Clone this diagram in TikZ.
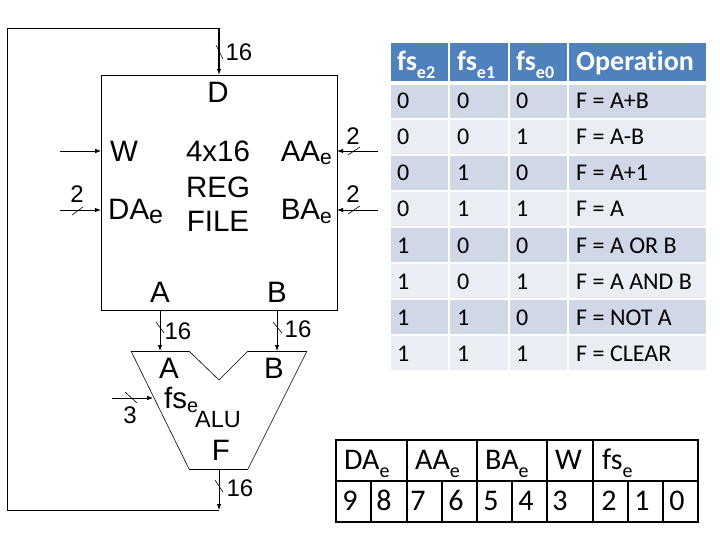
\documentclass[tikz,border=0pt]{standalone}
\usepackage{fontspec}
\setmainfont{Liberation Sans}
\newfontfamily\tblfont[Ligatures=NoCommon]{Carlito}
\usetikzlibrary{arrows.meta}
\definecolor{hdrblue}{HTML}{4F81BD}
\definecolor{rowdark}{HTML}{D0D8E8}
\definecolor{rowlight}{HTML}{E9EDF4}
\tikzset{
  wire/.style={draw=black, line width=0.9pt},
  sig/.style={wire, -{Latex[length=6pt,width=4.5pt]}},
  slash/.style={draw=black, line width=0.6pt},
  lbl/.style={inner sep=0pt, anchor=base, font=\fontsize{29.5}{30}\selectfont},
  num/.style={inner sep=0pt, anchor=base, font=\fontsize{24}{24}\selectfont},
  hcell/.style={fill=hdrblue, inner sep=0pt, anchor=north west},
  htxt/.style={inner sep=0pt, anchor=base west, text=white, font=\tblfont\bfseries\fontsize{28}{28}\selectfont},
  odd/.style={fill=rowdark, inner sep=0pt, anchor=north west},
  even/.style={fill=rowlight, inner sep=0pt, anchor=north west},
  rtxt/.style={inner sep=0pt, anchor=base west, font=\tblfont\fontsize{24}{24}\selectfont},
  bit/.style={inner sep=0pt, font=\tblfont\fontsize{30}{30}\selectfont},
  fmt/.style={draw=black, line width=1.4pt},
}
% size, drop, text
\newcommand{\lowered}[3]{\raisebox{-#2pt}{\fontsize{#1}{#1}\selectfont #3}}
\begin{document}
\begin{tikzpicture}[x=1pt,y=-1pt]
\useasboundingbox (0,0) rectangle (720,540);

% register file
\node[wire, draw, minimum width=236pt, minimum height=235pt, inner sep=0pt] (rf) at (219,192.5) {};
\node[lbl] (d) at (218,103) {D};
\node[lbl] (w) at (124,162) {W};
\node[lbl, anchor=base west] (dae) at (108,220) {DA\lowered{25}{4}{e}};
\node[lbl, anchor=base east] (aae) at (332,162) {AA\lowered{21}{3}{e}};
\node[lbl, anchor=base east] (bae) at (332,219) {BA\lowered{21}{4}{e}};
\node[lbl] (t1) at (218,162) {4x16};
\node[lbl] (t2) at (218,197) {REG};
\node[lbl] (t3) at (218,232) {FILE};
\node[lbl] (pa) at (160,302) {A};
\node[lbl] (pb) at (277,302) {B};

% alu
\coordinate (alu1) at (131,351);
\coordinate (alu2) at (189,351);
\coordinate (alu3) at (219,380);
\coordinate (alu4) at (248,351);
\coordinate (alu5) at (307,351);
\coordinate (alu6) at (248,469);
\coordinate (alu7) at (189,469);
\draw[wire] (alu1) -- (alu2);
\draw[slash] (alu2) -- (alu3) -- (alu4);
\draw[wire] (alu4) -- (alu5);
\draw[slash] (alu5) -- (alu6);
\draw[wire] (alu6) -- (alu7);
\draw[slash] (alu7) -- (alu1);
\node[lbl] (aa) at (169,378) {A};
\node[lbl] (ab) at (274,378) {B};
\node[lbl, anchor=base west] (fs) at (164,408) {fs\lowered{20}{4}{e}};
\node[lbl, font=\fontsize{23.5}{24}\selectfont, anchor=base west] (alu) at (195,427) {ALU};
\node[lbl] (f) at (221,460) {F};

% wires
\coordinate (fbk0) at (219,469);
\coordinate (fbk1) at (219,510);
\coordinate (fbk2) at (7.5,510);
\coordinate (fbk3) at (7.5,28);
\coordinate (fbk4) at (219,28);
\coordinate (din) at (219,75);
\draw[sig] (fbk0) -- (fbk1);
\draw[wire] (fbk1) -- (fbk2) -- (fbk3) -- (fbk4);
\draw[sig, line width=1.2pt] (fbk4) -- (din);
\coordinate (aout) at (160,310);
\coordinate (ain) at (160,351);
\coordinate (bout) at (277,310);
\coordinate (bin) at (277,351);
\draw[sig] (aout) -- (ain);
\draw[sig] (bout) -- (bin);
\coordinate (win) at (60,151);
\coordinate (wport) at (101,151);
\coordinate (dain) at (60,210);
\coordinate (daport) at (101,210);
\coordinate (aain) at (378,151);
\coordinate (aaport) at (337,151);
\coordinate (bain) at (378,210);
\coordinate (baport) at (337,210);
\coordinate (fsin) at (112,398);
\coordinate (fsport) at (153,398);
\draw[sig, line width=0.6pt] (win) -- (wport);
\draw[sig] (dain) -- (daport);
\draw[sig] (aain) -- (aaport);
\draw[sig] (bain) -- (baport);
\draw[sig, line width=0.6pt] (fsin) -- (fsport);

% bus slashes
\draw[slash] (216,45) -- (223,59);
\draw[slash] (156,322) -- (164,333);
\draw[slash] (273,322) -- (282,333);
\draw[slash] (215,480) -- (223,492);
\draw[slash] (125,392) -- (137,403);
\draw[slash] (72,215) -- (83,207);
\draw[slash] (348,155) -- (360,147);
\draw[slash] (348,214) -- (360,206);

% bus widths
\node[num] (n1) at (239,61) {16};
\node[num] (n2) at (178,339) {16};
\node[num] (n3) at (298,337) {16};
\node[num] (n4) at (240,496) {16};
\node[num] (n5) at (130,423) {3};
\node[num] (n6) at (77,203) {2};
\node[num] (n7) at (353,145) {2};
\node[num] (n8) at (353,203) {2};

% function table
\node[hcell, minimum width=57pt, minimum height=38pt] (h0) at (391,43) {};
\node[hcell, minimum width=58pt, minimum height=38pt] (h1) at (450,43) {};
\node[hcell, minimum width=57pt, minimum height=38pt] (h2) at (510,43) {};
\node[hcell, minimum width=137pt, minimum height=38pt] (h3) at (569,43) {};
\node[htxt] (ht0) at (397,71) {fs\lowered{18}{8}{e2}};
\node[htxt] (ht1) at (457,71) {fs\lowered{18}{8}{e1}};
\node[htxt] (ht2) at (516,71) {fs\lowered{18}{8}{e0}};
\node[htxt] (ht3) at (576,71) {Operation};
\foreach \row/\top/\ht/\base/\st/\a/\b/\c/\op in {
  1/85/33/109/odd/0/0/0/{F = A+B},
  2/120/34/145/even/0/0/1/{F = A-B},
  3/156/34/181/odd/0/1/0/{F = A+1},
  4/192/34/217/even/0/1/1/{F = A},
  5/228/34/253/odd/1/0/0/{F = A OR B},
  6/264/34/289/even/1/0/1/{F = A AND B},
  7/300/34/325/odd/1/1/0/{F = NOT A},
  8/336/34/361/even/1/1/1/{F = CLEAR}}{
  \node[\st, minimum width=57pt, minimum height=\ht pt] (ra\row) at (391,\top) {};
  \node[\st, minimum width=58pt, minimum height=\ht pt] (rb\row) at (450,\top) {};
  \node[\st, minimum width=57pt, minimum height=\ht pt] (rc\row) at (510,\top) {};
  \node[\st, minimum width=137pt, minimum height=\ht pt] (rd\row) at (569,\top) {};
  \node[rtxt] (ta\row) at (397,\base) {\a};
  \node[rtxt] (tb\row) at (457,\base) {\b};
  \node[rtxt] (tc\row) at (516,\base) {\c};
  \node[rtxt] (td\row) at (576,\base) {\op};
}

% instruction format
\draw[fmt] (336,440) rectangle (698,522);
\draw[fmt] (336,481) -- (698,481);
\foreach \x in {407,477,547,593} \draw[fmt] (\x,440) -- (\x,522);
\foreach \x in {371,442,512,628,663} \draw[fmt] (\x,481) -- (\x,522);
\node[bit, anchor=base west] (fda) at (344,469) {DA\lowered{20}{8}{e}};
\node[bit, anchor=base west] (faa) at (415,469) {AA\lowered{20}{8}{e}};
\node[bit, anchor=base west] (fba) at (485,469) {BA\lowered{20}{8}{e}};
\node[bit, anchor=base west] (fw) at (555,469) {W};
\node[bit, anchor=base west] (ffs) at (602,469) {fs\lowered{20}{8}{e}};
\foreach \v/\x in {9/350,8/384,7/418,6/456,5/491,4/526,3/560,2/609,1/642,0/677}
  \node[bit, anchor=base] (b\v) at (\x,510) {\v};
\end{tikzpicture}
\end{document}
